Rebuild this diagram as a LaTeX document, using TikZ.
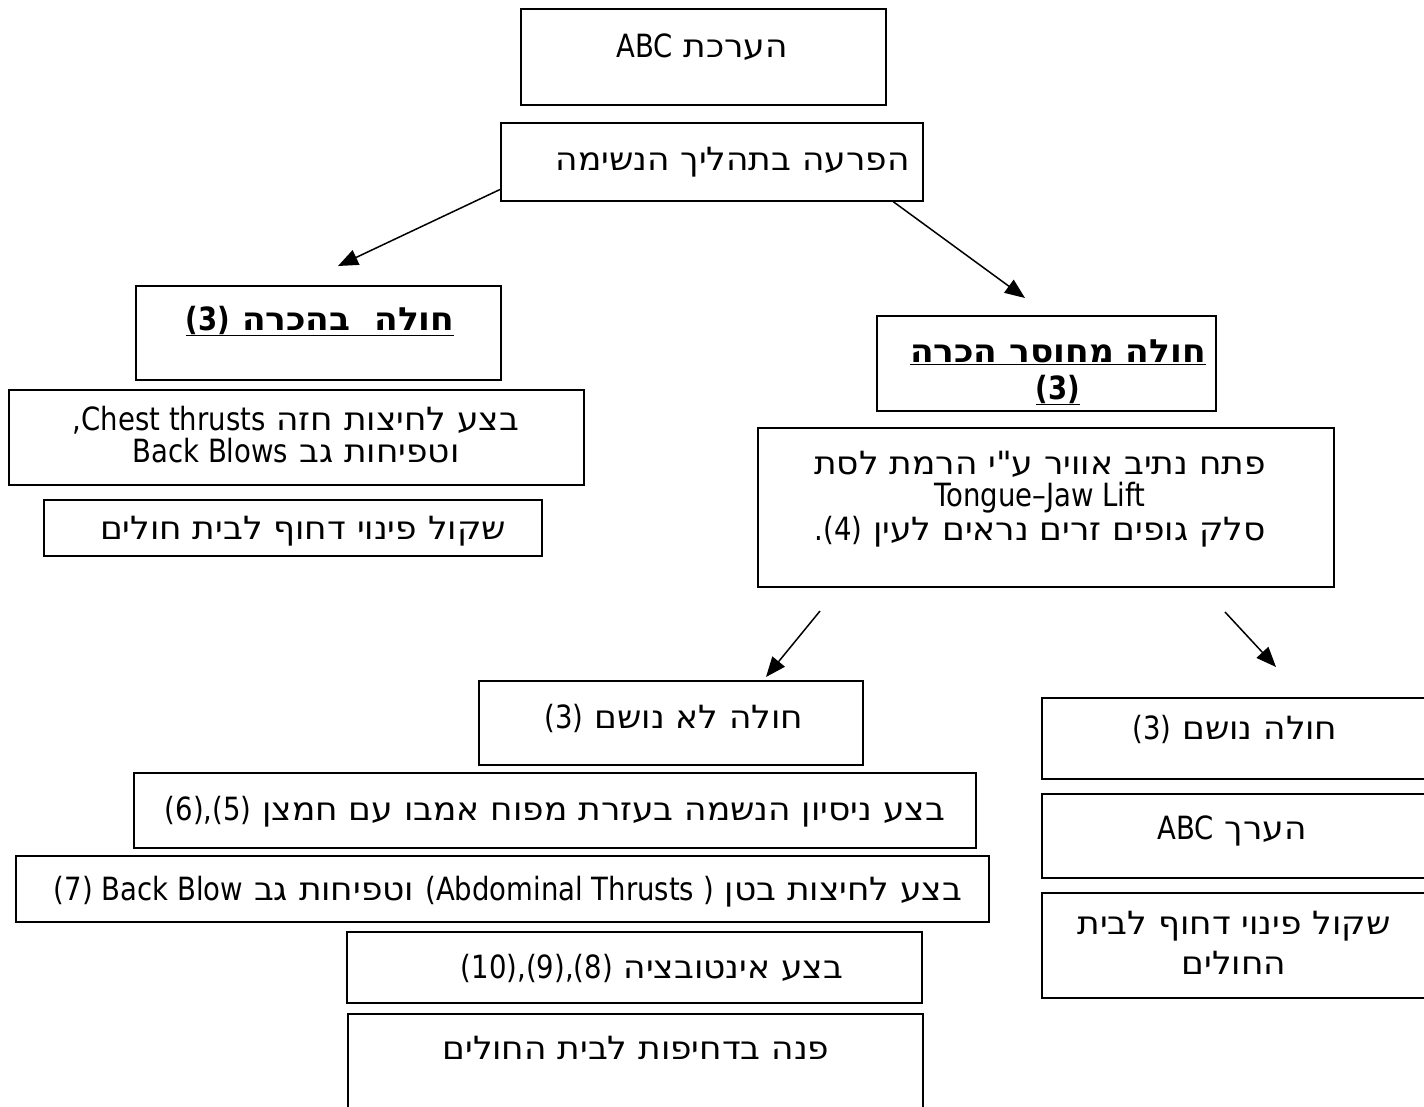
\documentclass[tikz,border=0pt]{standalone}
\usepackage{fontspec}
\usetikzlibrary{arrows.meta}
\TeXXeTstate=1
% Hebrew runs and Latin runs get their own families, each set to its own width
\newfontfamily\heb[Script=Hebrew,FakeStretch=1.075]{DejaVu Sans}
\newfontfamily\lat[FakeStretch=0.86]{DejaVu Sans}
\newcommand\rtltext[1]{\beginR #1\endR}
\newcommand\ltrtext[1]{\beginL{\lat #1}\endL{}}
\begin{document}
\begin{tikzpicture}[x=1pt,y=-1pt,
  box/.style={draw, line width=1.5pt, inner sep=0pt, anchor=north west},
  txt/.style={font=\heb\fontsize{32}{34}\selectfont, inner sep=0pt, anchor=base},
  arr/.style={line width=1.5pt, -{Triangle[length=20pt,width=16pt]}}]
\useasboundingbox (0,0) rectangle (1424,1106);
\fill[white] (0,0) rectangle (1424,1106);

% boxes: top-left corner, width, height
\node[box, minimum width=365pt, minimum height=96pt] (abc)  at (520,8) {};
\node[box, minimum width=422pt, minimum height=78pt] (dist) at (500,122) {};
\node[box, minimum width=365pt, minimum height=94pt] (consc) at (135,285) {};
\node[box, minimum width=575pt, minimum height=95pt] (chest) at (8,389) {};
\node[box, minimum width=498pt, minimum height=56pt] (evacA) at (43,499) {};
\node[box, minimum width=339pt, minimum height=95pt] (uncon) at (876,315) {};
\node[box, minimum width=576pt, minimum height=159pt] (airway) at (757,427) {};
\node[box, minimum width=384pt, minimum height=84pt] (nobr) at (478,680) {};
\node[box, minimum width=842pt, minimum height=75pt] (vent) at (133,772) {};
\node[box, minimum width=973pt, minimum height=66pt] (abdo) at (15,855) {};
\node[box, minimum width=575pt, minimum height=71pt] (intub) at (346,931) {};
\node[box, minimum width=575pt, minimum height=110pt] (hosp) at (347,1013) {};
\node[box, minimum width=395pt, minimum height=81pt] (breath) at (1041,697) {};
\node[box, minimum width=395pt, minimum height=84pt] (abcB) at (1041,793) {};
\node[box, minimum width=395pt, minimum height=105pt] (evacB) at (1041,892) {};

% texts
\node[txt] (tabc) at (702,57) {\rtltext{הערכת \ltrtext{ABC}}};
\node[txt, anchor=base east] (tdist) at (910,170) {\rtltext{הפרעה בתהליך הנשימה}};
\node[txt] (tconsc) at (320,330) {\underline{\bfseries\rtltext{חולה~~בהכרה \ltrtext{(3)}}}};
\node[txt] (tchestA) at (296,430) {\rtltext{בצע לחיצות חזה \ltrtext{,Chest thrusts}}};
\node[txt] (tchestB) at (296,462) {\rtltext{וטפיחות גב \ltrtext{Back Blows}}};
\node[txt] (tevacA) at (303,539) {\rtltext{שקול פינוי דחוף לבית חולים}};
\node[txt] (tunconA) at (1058,362) {\underline{\bfseries\rtltext{חולה מחוסר הכרה}}};
\node[txt] (tunconB) at (1058,399) {\underline{\bfseries\lat (3)}};
\node[txt] (tairA) at (1040,474) {\rtltext{פתח נתיב אוויר ע"י הרמת לסת}};
\node[txt] (tairB) at (1040,506) {\lat Tongue–Jaw Lift};
\node[txt] (tairC) at (1040,540) {\rtltext{סלק גופים זרים נראים לעין \ltrtext{.(4)}}};
\node[txt] (tnobr) at (674,728) {\rtltext{חולה לא נושם \ltrtext{(3)}}};
\node[txt] (tvent) at (555,820) {\rtltext{בצע ניסיון הנשמה בעזרת מפוח אמבו עם חמצן \ltrtext{(6),(5)}}};
\node[txt] (tabdo) at (508,900) {\rtltext{בצע לחיצות בטן \ltrtext{(Abdominal Thrusts )} וטפיחות גב \ltrtext{(7) Back Blow}}};
\node[txt] (tintub) at (652,978) {\rtltext{בצע אינטובציה \ltrtext{(10),(9),(8)}}};
\node[txt] (thosp) at (636,1059) {\rtltext{פנה בדחיפות לבית החולים}};
\node[txt] (tbreath) at (1235,739) {\rtltext{חולה נושם \ltrtext{(3)}}};
\node[txt] (tabcB) at (1232,839) {\rtltext{הערך \ltrtext{ABC}}};
\node[txt] (tevacB1) at (1234,934) {\rtltext{שקול פינוי דחוף לבית}};
\node[txt] (tevacB2) at (1234,974) {\rtltext{החולים}};

% connectors
\coordinate (tipL) at (338,266);
\coordinate (tipR) at (1025,298);
\coordinate (srcL2) at (820,611);
\coordinate (tipL2) at (766,677);
\coordinate (srcR2) at (1225,612);
\coordinate (tipR2) at (1276,667);
\draw[arr] ([yshift=12pt]dist.south west) -- (tipL);
\draw[arr] ([xshift=393pt]dist.south west) -- (tipR);
\draw[arr] (srcL2) -- (tipL2);
\draw[arr] (srcR2) -- (tipR2);
\end{tikzpicture}
\end{document}
